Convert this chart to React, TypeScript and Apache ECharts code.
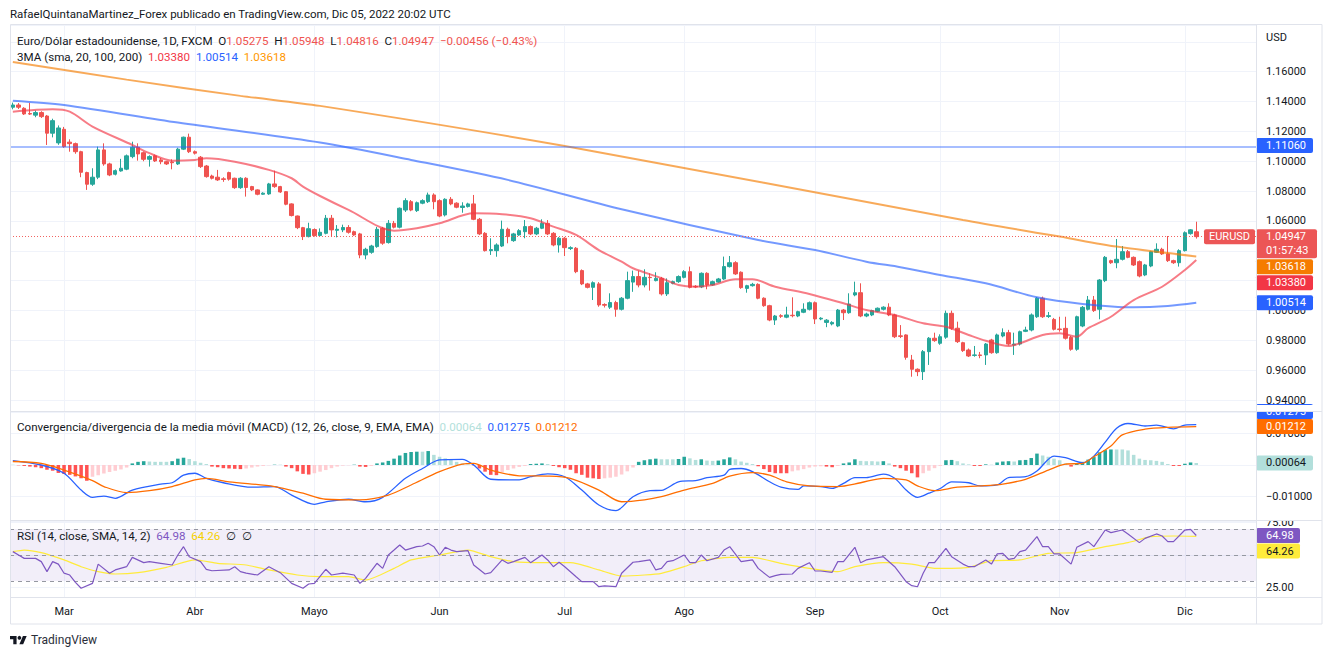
import React, { useEffect, useRef } from 'react';
import * as echarts from 'echarts';

const FONT = 'Roboto, "Noto Sans", "DejaVu Sans", sans-serif';
const INK = '#131722';
const GRID_LINE = '#f0f3fa';
const BORDER = '#e0e3eb';
const UP = '#26a69a';
const DOWN = '#ef5350';
const LEGEND_SIZE = 11.6;

// ---------- texts ----------
const HEADER = 'RafaelQuintanaMartinez_Forex publicado en TradingView.com, Dic 05, 2022 20:02 UTC';
const SYMBOL_TITLE = 'Euro/Dólar estadounidense, 1D, FXCM';
const MA_TITLE = '3MA (sma, 20, 100, 200)';
const MACD_TITLE = 'Convergencia/divergencia de la media móvil (MACD) (12, 26, close, 9, EMA, EMA)';
const RSI_TITLE = 'RSI (14, close, SMA, 14, 2)';
const COUNTDOWN = '01:57:43';
const MONTHS_ES = ['Ene', 'Feb', 'Mar', 'Abr', 'Mayo', 'Jun', 'Jul', 'Ago', 'Sep', 'Oct', 'Nov', 'Dic'];

// ---------- calendar ----------
const FIRST_DAY = '2022-02-16';
const EMPTY_BARS = 10;

// ---------- last values ----------
const LAST_OPEN = 1.05275;
const LAST_HIGH = 1.05948;
const LAST_LOW = 1.04816;
const LAST_CLOSE = 1.04947;
const LAST_CHANGE = '−0.00456 (−0.43%)';
const HLINE_LEVEL = 1.1106;
const SMA20_LAST = 1.0338;
const SMA100_LAST = 1.00514;
const SMA200_LAST = 1.03618;
const MACD_HIST_LAST = 0.00064;
const MACD_LAST = 0.01275;
const SIGNAL_LAST = 0.01212;
const RSI_LAST = 64.98;
const RSI_MA_LAST = 64.26;

// ---------- price: [open, close, low, high] ----------
const CANDLES = [
  [1.1362,1.1377,1.1348,1.1393],[1.1377,1.1362,1.1350,1.1390],[1.1355,1.1317,1.1310,1.1362],[1.1320,1.1316,1.1310,1.1391],[1.1309,1.1326,1.1295,1.1340],
  [1.1326,1.1299,1.1290,1.1335],[1.1303,1.1188,1.1109,1.1310],[1.1188,1.1272,1.1160,1.1285],[1.1123,1.1223,1.1110,1.1240],[1.1214,1.1098,1.1090,1.1230],
  [1.1128,1.1118,1.1064,1.1147],[1.1118,1.1064,1.1050,1.1125],[1.1064,1.0926,1.0893,1.1070],[1.0924,1.0846,1.0808,1.0930],[1.0846,1.0893,1.0835,1.0953],
  [1.0893,1.1076,1.0880,1.1098],[1.1076,1.0982,1.0970,1.1120],[1.0982,1.0908,1.0900,1.0990],[1.0913,1.0937,1.0905,1.0945],[1.0935,1.0953,1.0930,1.1016],
  [1.0947,1.1036,1.0940,1.1045],[1.1031,1.1094,1.1020,1.1131],[1.1094,1.1049,1.1004,1.1120],[1.1057,1.1013,1.1000,1.1065],[1.1013,1.1031,1.0964,1.1040],
  [1.1036,1.1002,1.0995,1.1045],[1.1009,1.0997,1.0980,1.1022],[1.0997,1.0982,1.0975,1.1002],[1.0995,1.0990,1.0946,1.1013],[1.0982,1.1081,1.0975,1.1090],
  [1.1081,1.1161,1.1075,1.1165],[1.1161,1.1064,1.1055,1.1185],[1.1064,1.1054,1.1045,1.1072],[1.1027,1.0964,1.0955,1.1035],[1.0968,1.0897,1.0890,1.0975],
  [1.0901,1.0886,1.0878,1.0910],[1.0893,1.0875,1.0868,1.0942],[1.0882,1.0878,1.0862,1.0893],[1.0924,1.0880,1.0870,1.0930],[1.0886,1.0823,1.0815,1.0890],
  [1.0823,1.0886,1.0815,1.0893],[1.0886,1.0824,1.0763,1.0893],[1.0830,1.0808,1.0800,1.0835],[1.0808,1.0779,1.0772,1.0812],[1.0779,1.0786,1.0775,1.0792],
  [1.0781,1.0848,1.0775,1.0855],[1.0848,1.0830,1.0822,1.0937],[1.0830,1.0794,1.0788,1.0835],[1.0796,1.0712,1.0705,1.0800],[1.0714,1.0636,1.0630,1.0718],
  [1.0633,1.0555,1.0545,1.0636],[1.0555,1.0495,1.0472,1.0560],[1.0495,1.0548,1.0490,1.0588],[1.0542,1.0502,1.0495,1.0550],[1.0502,1.0524,1.0498,1.0550],
  [1.0517,1.0618,1.0510,1.0640],[1.0618,1.0540,1.0495,1.0640],[1.0537,1.0544,1.0490,1.0572],[1.0540,1.0556,1.0525,1.0575],[1.0556,1.0524,1.0515,1.0572],
  [1.0528,1.0506,1.0500,1.0535],[1.0513,1.0372,1.0350,1.0520],[1.0372,1.0410,1.0343,1.0420],[1.0390,1.0432,1.0380,1.0440],[1.0428,1.0544,1.0420,1.0560],
  [1.0551,1.0451,1.0440,1.0560],[1.0455,1.0584,1.0448,1.0606],[1.0584,1.0558,1.0550,1.0600],[1.0558,1.0685,1.0550,1.0690],[1.0673,1.0736,1.0660,1.0752],
  [1.0729,1.0673,1.0665,1.0740],[1.0669,1.0722,1.0660,1.0730],[1.0719,1.0736,1.0712,1.0745],[1.0729,1.0774,1.0720,1.0790],[1.0774,1.0729,1.0678,1.0785],
  [1.0736,1.0633,1.0625,1.0745],[1.0640,1.0745,1.0630,1.0752],[1.0745,1.0714,1.0705,1.0760],[1.0719,1.0692,1.0685,1.0725],[1.0690,1.0700,1.0655,1.0725],
  [1.0696,1.0714,1.0690,1.0722],[1.0714,1.0611,1.0605,1.0774],[1.0611,1.0513,1.0505,1.0620],[1.0517,1.0401,1.0395,1.0525],[1.0401,1.0408,1.0372,1.0484],
  [1.0401,1.0439,1.0360,1.0450],[1.0432,1.0544,1.0425,1.0602],[1.0544,1.0495,1.0450,1.0555],[1.0468,1.0513,1.0460,1.0520],[1.0506,1.0535,1.0500,1.0545],
  [1.0528,1.0562,1.0484,1.0606],[1.0562,1.0513,1.0505,1.0570],[1.0513,1.0551,1.0505,1.0560],[1.0551,1.0584,1.0545,1.0611],[1.0584,1.0513,1.0505,1.0606],
  [1.0517,1.0439,1.0430,1.0525],[1.0439,1.0484,1.0388,1.0492],[1.0484,1.0421,1.0365,1.0492],[1.0415,1.0421,1.0405,1.0430],[1.0417,1.0260,1.0250,1.0425],
  [1.0267,1.0178,1.0170,1.0275],[1.0178,1.0155,1.0148,1.0185],[1.0155,1.0186,1.0070,1.0195],[1.0178,1.0037,1.0025,1.0190],[1.0040,1.0035,1.0020,1.0048],
  [1.0022,1.0053,1.0010,1.0115],[1.0053,1.0008,0.9958,1.0065],[1.0008,1.0082,1.0000,1.0090],[1.0082,1.0200,1.0075,1.0260],[1.0190,1.0227,1.0125,1.0267],
  [1.0227,1.0171,1.0155,1.0267],[1.0171,1.0222,1.0155,1.0276],[1.0222,1.0220,1.0133,1.0249],[1.0200,1.0215,1.0195,1.0256],[1.0215,1.0111,1.0100,1.0225],
  [1.0111,1.0186,1.0097,1.0215],[1.0182,1.0193,1.0175,1.0200],[1.0193,1.0227,1.0185,1.0235],[1.0222,1.0260,1.0215,1.0270],[1.0260,1.0155,1.0148,1.0294],
  [1.0162,1.0158,1.0150,1.0170],[1.0158,1.0249,1.0150,1.0255],[1.0249,1.0171,1.0142,1.0256],[1.0171,1.0193,1.0165,1.0200],[1.0190,1.0211,1.0185,1.0218],
  [1.0211,1.0294,1.0205,1.0361],[1.0294,1.0320,1.0288,1.0365],[1.0320,1.0245,1.0238,1.0330],[1.0256,1.0153,1.0145,1.0262],[1.0148,1.0166,1.0119,1.0172],
  [1.0166,1.0175,1.0160,1.0185],[1.0175,1.0082,1.0075,1.0182],[1.0082,1.0032,1.0025,1.0088],[1.0032,0.9936,0.9928,1.0038],[0.9936,0.9963,0.9903,0.9970],
  [0.9965,0.9961,0.9950,0.9975],[0.9955,0.9970,0.9948,1.0025],[0.9968,0.9965,0.9954,1.0088],[0.9963,0.9992,0.9955,0.9998],[0.9988,1.0008,0.9982,1.0048],
  [1.0008,1.0052,1.0000,1.0060],[1.0052,0.9943,0.9909,1.0060],[0.9943,0.9948,0.9935,0.9955],[0.9920,0.9935,0.9888,0.9942],[0.9910,0.9920,0.9900,0.9928],
  [0.9896,1.0003,0.9888,1.0010],[1.0003,0.9985,0.9936,1.0010],[0.9985,1.0043,0.9978,1.0115],[1.0104,1.0119,1.0095,1.0193],[1.0119,0.9963,0.9955,1.0182],
  [0.9963,0.9976,0.9955,0.9985],[0.9970,0.9999,0.9962,1.0005],[0.9994,1.0015,0.9988,1.0020],[1.0008,1.0022,1.0000,1.0028],[1.0022,0.9970,0.9962,1.0048],
  [0.9970,0.9824,0.9815,0.9978],[0.9830,0.9826,0.9815,0.9902],[0.9836,0.9686,0.9670,0.9840],[0.9668,0.9606,0.9556,0.9702],[0.9606,0.9590,0.9560,0.9612],
  [0.9590,0.9724,0.9534,0.9735],[0.9724,0.9814,0.9635,0.9822],[0.9814,0.9798,0.9790,0.9851],[0.9780,0.9824,0.9770,0.9840],[0.9821,0.9981,0.9810,0.9999],
  [0.9981,0.9881,0.9870,0.9999],[0.9881,0.9791,0.9782,0.9925],[0.9784,0.9731,0.9722,0.9790],[0.9735,0.9695,0.9688,0.9745],[0.9699,0.9702,0.9690,0.9762],
  [0.9702,0.9698,0.9680,0.9722],[0.9702,0.9775,0.9635,0.9782],[0.9802,0.9717,0.9710,0.9810],[0.9717,0.9836,0.9710,0.9845],[0.9829,0.9851,0.9820,0.9880],
  [0.9851,0.9775,0.9765,0.9870],[0.9768,0.9775,0.9702,0.9851],[0.9775,0.9858,0.9765,0.9865],[0.9860,0.9869,0.9855,0.9891],[0.9869,0.9970,0.9860,0.9980],
  [0.9958,1.0082,0.9950,1.0090],[1.0082,0.9958,0.9950,1.0093],[0.9960,0.9965,0.9950,0.9990],[0.9940,0.9874,0.9866,0.9950],[0.9876,0.9872,0.9858,0.9958],
  [0.9880,0.9814,0.9805,0.9958],[0.9820,0.9740,0.9730,0.9830],[0.9740,0.9958,0.9730,0.9965],[0.9896,1.0021,0.9888,1.0030],[1.0008,1.0070,1.0000,1.0097],
  [1.0070,0.9999,0.9990,1.0097],[1.0008,1.0204,0.9941,1.0210],[1.0200,1.0356,1.0190,1.0365],[1.0334,1.0320,1.0312,1.0340],[1.0320,1.0343,1.0283,1.0479],
  [1.0343,1.0394,1.0335,1.0432],[1.0394,1.0356,1.0350,1.0405],[1.0356,1.0305,1.0298,1.0362],[1.0327,1.0231,1.0222,1.0335],[1.0238,1.0305,1.0230,1.0312],
  [1.0298,1.0394,1.0290,1.0400],[1.0390,1.0410,1.0385,1.0450],[1.0410,1.0379,1.0372,1.0420],[1.0379,1.0334,1.0325,1.0499],[1.0334,1.0320,1.0312,1.0340],
  [1.0320,1.0401,1.0294,1.0410],[1.0401,1.0521,1.0395,1.0530],[1.0515,1.05403,1.0508,1.0545],[1.05275,1.04947,1.04816,1.05948],
];

// ---------- moving averages: [bar index, value] ----------
const SMA20 = [[0,1.1332],[7,1.1348],[10,1.1332],[14,1.1232],[21,1.1109],[24,1.1054],[28,1.1004],[32,1.1009],[34,1.1020],[39,1.0997],[45,1.0942],[49,1.0886],[51,1.0830],[54,1.0767],[59,1.0674],[67,1.0535],[71,1.0551],[75,1.0584],[81,1.0651],[86,1.0645],[91,1.0618],[95,1.0562],[99,1.0506],[103,1.0405],[107,1.0327],[109,1.0283],[114,1.0216],[117,1.0171],[120,1.0159],[123,1.0171],[127,1.0209],[130,1.0209],[134,1.0159],[140,1.0111],[146,1.0048],[150,1.0003],[155,0.9970],[160,0.9914],[164,0.9891],[168,0.9836],[171,0.9797],[175,0.9762],[177,0.9780],[181,0.9836],[184,0.9847],[187,0.9824],[189,0.9881],[193,0.9958],[197,1.0070],[202,1.0159],[206,1.0271],[208,1.0338]];
const SMA100 = [[0,1.1406],[9,1.1377],[29,1.1259],[54,1.1125],[70,1.1009],[87,1.0875],[107,1.0678],[131,1.0472],[141,1.0405],[150,1.0327],[156,1.0290],[163,1.0238],[171,1.0182],[180,1.0088],[188,1.0044],[197,1.0021],[203,1.0030],[208,1.00514]];
const SMA200 = [[0,1.1665],[20,1.1547],[40,1.1438],[54,1.1371],[97,1.1102],[167,1.0606],[184,1.0495],[194,1.0428],[208,1.03618]];

// ---------- MACD ----------
const MACD_HIST = [
  0.0001,-0.0001,-0.0003,-0.0005,-0.0007,-0.0010,-0.0015,-0.0018,-0.0025,-0.0028,-0.0031,-0.0036,-0.0042,-0.0050,-0.0037,-0.0032,-0.0027,-0.0022,-0.0018,-0.0014,-0.0008,
  0.0005,0.0010,0.0012,0.0011,0.0010,0.0010,0.0010,0.0012,0.0020,0.0023,0.0019,0.0012,0.0007,0.0003,
  -0.0005,-0.0007,-0.0010,-0.0011,-0.0012,-0.0013,-0.0011,-0.0008,-0.0005,-0.0003,-0.0001,
  0.0001,0.0001,
  -0.0005,-0.0010,-0.0020,-0.0028,-0.0030,-0.0026,-0.0021,-0.0016,-0.0010,-0.0005,-0.0002,-0.0001,
  0.0001,
  -0.0005,-0.0006,-0.0003,
  0.0005,0.0008,0.0013,0.0020,0.0030,0.0038,0.0041,0.0042,0.0042,0.0044,0.0032,0.0026,0.0021,0.0016,0.0010,0.0005,0.0002,
  -0.0001,-0.0011,-0.0021,-0.0031,-0.0032,-0.0022,-0.0016,-0.0011,-0.0006,-0.0003,
  0.0003,0.0004,0.0005,0.0003,
  -0.0003,-0.0007,-0.0010,-0.0015,-0.0026,-0.0031,-0.0040,-0.0042,-0.0044,-0.0042,-0.0040,-0.0037,-0.0030,-0.0020,-0.0008,
  0.0010,0.0015,0.0018,0.0020,0.0018,0.0018,0.0018,0.0019,0.0026,0.0021,0.0016,0.0018,0.0014,0.0013,0.0014,0.0018,0.0024,0.0018,0.0011,0.0007,0.0003,
  -0.0004,-0.0013,-0.0022,-0.0026,-0.0026,-0.0026,-0.0020,-0.0017,-0.0013,-0.0008,-0.0005,-0.0004,-0.0005,-0.0007,-0.0003,
  0.0005,0.0008,0.0018,0.0013,0.0012,0.0012,0.0011,0.0012,0.0005,
  -0.0005,-0.0010,-0.0018,-0.0026,-0.0039,-0.0026,-0.0018,-0.0010,-0.0003,
  0.0015,0.0016,0.0012,0.0005,0.0002,
  -0.0003,-0.0003,
  0.0002,0.0001,0.0008,0.0011,0.0012,0.0011,0.0015,0.0016,0.0022,0.0036,0.0030,0.0026,0.0020,0.0015,0.0005,
  -0.0005,
  0.0005,0.0010,0.0017,0.0025,0.0040,0.0047,0.0049,0.0049,0.0049,0.0046,0.0032,0.0020,0.0016,0.0015,0.0013,0.0010,0.0003,
  -0.0003,-0.0003,
  0.0004,0.0008,0.00064,
];
const MACD_LINE = [[0,0.0014],[5,0],[9,-0.0026],[12,-0.0079],[14,-0.0102],[16,-0.0098],[18,-0.0105],[21,-0.0079],[26,-0.0060],[28,-0.0056],[30,-0.0032],[32,-0.0026],[34,-0.0042],[37,-0.0056],[42,-0.0070],[46,-0.0068],[49,-0.0095],[53,-0.0124],[55,-0.0116],[59,-0.0108],[62,-0.0116],[65,-0.0102],[69,-0.0042],[72,-0.0011],[75,0.0016],[79,0.0018],[81,0],[84,-0.0045],[89,-0.0047],[91,-0.0037],[94,-0.0028],[97,-0.0037],[100,-0.0079],[103,-0.0126],[106,-0.0144],[109,-0.0100],[112,-0.0081],[114,-0.0080],[117,-0.0053],[120,-0.0049],[122,-0.0040],[125,-0.0032],[126,-0.0014],[128,-0.0011],[130,-0.0021],[133,-0.0053],[135,-0.0070],[138,-0.0077],[139,-0.0066],[142,-0.0068],[144,-0.0074],[146,-0.0058],[148,-0.0040],[150,-0.0040],[153,-0.0029],[155,-0.0042],[157,-0.0079],[159,-0.0102],[161,-0.0089],[163,-0.0074],[165,-0.0053],[168,-0.0056],[170,-0.0066],[173,-0.0063],[175,-0.0040],[178,-0.0037],[180,-0.0019],[183,0.0028],[185,0.0023],[188,0.0007],[190,0.0028],[192,0.0072],[194,0.0116],[196,0.0131],[199,0.0123],[201,0.0126],[204,0.0114],[206,0.0126],[208,0.01275]];
const MACD_SIGNAL = [[0,0.0011],[5,0.0005],[9,-0.0016],[14,-0.0049],[16,-0.0068],[20,-0.0087],[24,-0.0081],[28,-0.0068],[32,-0.0047],[34,-0.0042],[38,-0.0053],[46,-0.0068],[51,-0.0089],[55,-0.0108],[61,-0.0110],[66,-0.0095],[70,-0.0063],[75,-0.0021],[79,0.0003],[81,0.0005],[84,-0.0016],[89,-0.0034],[94,-0.0035],[98,-0.0042],[103,-0.0079],[107,-0.0116],[111,-0.0110],[114,-0.0100],[118,-0.0079],[123,-0.0058],[126,-0.0035],[130,-0.0024],[133,-0.0032],[136,-0.0053],[140,-0.0066],[145,-0.0068],[149,-0.0056],[153,-0.0042],[157,-0.0047],[159,-0.0066],[162,-0.0081],[166,-0.0070],[170,-0.0066],[174,-0.0060],[178,-0.0045],[182,-0.0016],[185,0.0003],[188,0.0005],[190,0.0026],[193,0.0060],[195,0.0095],[199,0.0113],[203,0.0119],[208,0.01212]];

// ---------- RSI ----------
const RSI_LINE = [[0,52.6],[1,50],[2,47.4],[4,47.4],[5,44.9],[6,37.2],[7,44.9],[8,43],[9,36],[10,34.6],[11,29],[12,24.4],[14,28.2],[15,43],[17,36],[18,38.5],[20,41],[21,48.2],[23,44.1],[24,44.9],[26,43.6],[28,42.3],[29,50],[30,56.4],[31,48.7],[33,44.9],[34,39],[35,37.9],[38,38.5],[39,41],[40,37.2],[41,36],[43,34.6],[45,41],[47,36.4],[49,28.2],[51,24.4],[52,27.7],[53,28.2],[55,39],[56,34.6],[58,36],[60,34.6],[61,28.2],[62,32],[64,43.6],[65,39.7],[66,50],[67,53.8],[68,57.7],[69,53.8],[71,56.4],[72,56.9],[73,59],[74,56.4],[75,50],[76,55.9],[77,53.8],[78,52.6],[80,53.3],[81,42.3],[83,35.4],[84,36.4],[86,46.2],[87,43.6],[88,44.9],[90,48.2],[91,44.1],[93,50],[94,46.2],[95,41],[96,44.4],[97,41],[99,33.3],[100,29.5],[102,29.5],[103,25.6],[104,26.2],[106,25.6],[107,36],[109,44.4],[110,44.9],[112,46.2],[113,38.5],[114,39.7],[115,44.9],[116,45.6],[118,50],[119,44.1],[120,44.1],[121,50],[122,45.6],[124,48.2],[125,53.8],[126,56.4],[128,44.9],[130,46.2],[131,39.7],[133,32.8],[134,34.1],[135,35.1],[137,35.4],[138,39.7],[140,44.1],[141,37.7],[142,37.7],[144,36.7],[145,44.9],[146,44.9],[148,55.9],[149,44.1],[150,46.2],[153,48.7],[155,41],[157,29.5],[158,26.4],[159,25.6],[160,36],[161,44.1],[162,44.1],[164,55.1],[165,48.7],[167,43],[168,41],[169,41],[171,46.2],[172,43],[173,50.8],[174,51.3],[175,46.7],[176,47.4],[177,52.6],[178,53.8],[180,64.1],[181,56.4],[182,56.4],[183,50.8],[184,50.8],[186,43],[187,55.9],[189,60.3],[190,56.4],[192,69.2],[193,67.2],[195,69.2],[196,66.2],[198,59.5],[199,62.8],[201,66.2],[202,64.6],[203,60.3],[204,60.3],[206,69.2],[207,69.7],[208,64.98]];
const RSI_MA = [[0,52.6],[2,53.8],[5,51.8],[9,46.2],[12,41],[15,37.2],[18,35.4],[22,36.4],[27,40.5],[32,46.2],[36,43.6],[41,42.3],[45,38.5],[50,34.6],[54,33.3],[59,33.3],[62,30.8],[67,39.7],[70,46.2],[75,50],[80,53.8],[84,48.7],[88,44.9],[93,44.1],[98,44.1],[103,38.5],[107,33.8],[111,34.6],[114,35.9],[118,41],[121,45.6],[126,48.2],[130,48.2],[135,43.6],[140,39.7],[145,37.2],[148,41],[153,44.1],[158,43],[162,39.7],[168,40.5],[172,45.6],[177,46.2],[182,51.3],[187,51.8],[192,56.4],[196,59.5],[200,64.1],[204,64.6],[208,64.26]];
const RSI_LEVELS = [70, 50, 30];

// ---------- layout ----------
const PLOT_LEFT = 10;
const PLOT_RIGHT = 1256;
const AXIS_RIGHT = 1322;
const FRAME_TOP = 24.5;
const MAIN = { top: 25, bottom: 411, min: 0.93263, max: 1.1913 };
const MACD = { top: 412, bottom: 520, min: -0.01735, max: 0.01672 };
const RSI = { top: 521, bottom: 597, min: 17.69, max: 76.15 };
const TIME_BOTTOM = 624;

function buildDates(): string[] {
  const out: string[] = [];
  const d = new Date(FIRST_DAY + 'T00:00:00Z');
  while (out.length < CANDLES.length + EMPTY_BARS) {
    const wd = d.getUTCDay();
    if (wd !== 0 && wd !== 6) out.push(d.toISOString().slice(0, 10));
    d.setUTCDate(d.getUTCDate() + 1);
  }
  return out;
}
const DATES = buildDates();
const isMonthStart = (i: number) => i > 0 && DATES[i].slice(5, 7) !== DATES[i - 1].slice(5, 7);
const monthLabel = (v: string) => MONTHS_ES[Number(v.slice(5, 7)) - 1];
const f5 = (v: number) => (v < 0 ? '−' : '') + Math.abs(v).toFixed(5);

const TV_LOGO_PATH = 'M14 22H7V11H0V4h14v18zM28 22h-8l7.5-18h8L28 22z';

function buildOption(): any {
  const panes = [MAIN, MACD, RSI];
  const grid = panes.map((p) => ({
    left: PLOT_LEFT, top: p.top, width: PLOT_RIGHT - PLOT_LEFT, height: p.bottom - p.top,
    show: false, containLabel: false, outerBoundsMode: 'none',
  }));
  const xAxis = panes.map((_, g) => ({
    type: 'category', gridIndex: g, data: DATES, boundaryGap: true,
    axisLine: { show: false }, axisTick: { show: false },
    axisLabel: g === 2
      ? { show: true, interval: (i: number) => isMonthStart(i), formatter: monthLabel, color: INK, fontSize: 11, fontFamily: FONT, margin: 9 }
      : { show: false },
    splitLine: { show: true, interval: (i: number) => isMonthStart(i), alignWithLabel: true, lineStyle: { color: GRID_LINE, width: 1 } },
  }));
  const labelBase = { color: INK, fontSize: 11, fontFamily: FONT, margin: 10, showMinLabel: false, showMaxLabel: false };
  const yAxis = [
    {
      type: 'value', gridIndex: 0, position: 'right', min: MAIN.min, max: MAIN.max, splitNumber: 13, minInterval: 0.02, maxInterval: 0.02,
      axisLine: { show: false }, axisTick: { show: false },
      axisLabel: { ...labelBase, formatter: (v: number) => (Math.abs(v - 1.18) < 1e-6 ? '' : f5(v)) },
      splitLine: { lineStyle: { color: GRID_LINE, width: 1 } },
    },
    {
      type: 'value', gridIndex: 1, position: 'right', min: MACD.min, max: MACD.max, splitNumber: 3, minInterval: 0.01, maxInterval: 0.01,
      axisLine: { show: false }, axisTick: { show: false },
      axisLabel: { ...labelBase, formatter: (v: number) => f5(v) },
      splitLine: { lineStyle: { color: GRID_LINE, width: 1 } },
    },
    {
      type: 'value', gridIndex: 2, position: 'right', min: RSI.min, max: RSI.max, splitNumber: 2, minInterval: 25, maxInterval: 25,
      axisLine: { show: false }, axisTick: { show: false },
      axisLabel: { ...labelBase, formatter: (v: number) => (Math.abs(v - 50) < 1e-6 ? '' : v.toFixed(2)) },
      splitLine: { lineStyle: { color: GRID_LINE, width: 1 } },
    },
  ];

  const line = (data: number[][], color: string, x: number, width: number, opacity: number, smooth: number, z = 4) => ({
    type: 'line', xAxisIndex: x, yAxisIndex: x, data, showSymbol: false, symbol: 'none', smooth, silent: true, z,
    lineStyle: { color, width, opacity },
  });

  const hist = MACD_HIST.map((v, i) => {
    const p = i > 0 ? MACD_HIST[i - 1] : v;
    const color = v >= 0 ? (v > p ? '#26a69a' : '#b2dfdb') : (v > p ? '#ffcdd2' : '#ff5252');
    return { value: v, itemStyle: { color } };
  });

  const series: any[] = [
    {
      type: 'candlestick', xAxisIndex: 0, yAxisIndex: 0, data: CANDLES, barWidth: '70%', silent: true, z: 2,
      itemStyle: { color: UP, color0: DOWN, borderColor: UP, borderColor0: DOWN, borderWidth: 1 },
      markLine: {
        silent: true, symbol: ['none', 'none'], label: { show: false },
        data: [
          { yAxis: HLINE_LEVEL, lineStyle: { color: '#2962ff', width: 1.6, type: 'solid', opacity: 0.55 } },
          { yAxis: LAST_CLOSE, lineStyle: { color: DOWN, width: 1, type: [1, 2], opacity: 0.9 } },
        ],
      },
    },
    line(SMA200, '#f57c00', 0, 2, 0.65, 0.3),
    line(SMA100, '#2962ff', 0, 2, 0.65, 0.3),
    line(SMA20, '#f23645', 0, 2, 0.65, 0.3),
    { type: 'bar', xAxisIndex: 1, yAxisIndex: 1, data: hist, barWidth: '62%', silent: true, z: 2 },
    line(MACD_LINE, '#2962ff', 1, 1.3, 1, 0.3),
    line(MACD_SIGNAL, '#ff6d00', 1, 1.3, 1, 0.3),
    {
      ...line(RSI_MA, '#ffeb3b', 2, 1.2, 1, 0.2, 4),
      markArea: { silent: true, itemStyle: { color: 'rgba(126,87,194,0.1)' }, data: [[{ yAxis: 30 }, { yAxis: 70 }]] },
    },
    {
      ...line(RSI_LINE, '#7e57c2', 2, 1.2, 1, 0, 5),
      markLine: {
        silent: true, symbol: ['none', 'none'], label: { show: false },
        lineStyle: { color: '#9598a1', width: 1, type: [4, 4] },
        data: RSI_LEVELS.map((v) => ({ yAxis: v })),
      },
    },
  ];

  return {
    animation: false,
    backgroundColor: '#ffffff',
    textStyle: { fontFamily: FONT },
    grid, xAxis, yAxis, series,
  };
}

function txt(x: number, y: number, text: string, fill: string, size = 11, z = 60, align = 'left'): any {
  return { type: 'text', x, y, z, silent: true, style: { text, fill, font: `${size}px ${FONT}`, align, verticalAlign: 'middle' } };
}

function rich(x: number, y: number, text: string, styles: Record<string, string>): any {
  const r: any = {};
  const font = `${LEGEND_SIZE}px ${FONT}`;
  Object.keys(styles).forEach((k) => { r[k] = { fill: styles[k], font }; });
  return { type: 'text', x, y, z: 60, silent: true, style: { text, rich: r, fill: INK, font, verticalAlign: 'middle' } };
}

function tag(x: number, top: number, w: number, fill: string, lines: string[], color = '#ffffff', centered = false): any[] {
  const h = 15 + (lines.length - 1) * 14;
  const out: any[] = [{ type: 'rect', z: 80, silent: true, shape: { x, y: top, width: w, height: h, r: 2 }, style: { fill } }];
  lines.forEach((t, k) => {
    out.push({
      type: 'text', z: 81, silent: true, x: centered ? x + w / 2 : x + 10, y: top + 7.5 + k * 14,
      style: { text: t, fill: color, font: `11px ${FONT}`, align: centered ? 'center' : 'left', verticalAlign: 'middle' },
    });
  });
  return out;
}

function buildGraphics(chart: any): any[] {
  const yAt = (axis: number, v: number) => Number(chart.convertToPixel({ yAxisIndex: axis }, v));
  const g: any[] = [];

  // header and legends
  g.push(txt(10, 14, HEADER, INK, 11.5));
  g.push(rich(17, 41,
    `{d|${SYMBOL_TITLE}}  {d|O}{r|${f5(LAST_OPEN)}}  {d|H}{r|${f5(LAST_HIGH)}}  {d|L}{r|${f5(LAST_LOW)}}  {d|C}{r|${f5(LAST_CLOSE)}}  {r|${LAST_CHANGE}}`,
    { d: INK, r: DOWN }));
  g.push(rich(17, 57,
    `{d|${MA_TITLE}}  {a|${f5(SMA20_LAST)}}  {b|${f5(SMA100_LAST)}}  {c|${f5(SMA200_LAST)}}`,
    { d: INK, a: '#f23645', b: '#2962ff', c: '#ff9800' }));
  g.push(rich(17, 427,
    `{d|${MACD_TITLE}}  {h|${f5(MACD_HIST_LAST)}}  {m|${f5(MACD_LAST)}}  {s|${f5(SIGNAL_LAST)}}`,
    { d: INK, h: '#b2dfdb', m: '#2962ff', s: '#ff6d00' }));
  g.push(rich(17, 536,
    `{d|${RSI_TITLE}}  {p|${RSI_LAST.toFixed(2)}}  {y|${RSI_MA_LAST.toFixed(2)}}  {d|∅}  {d|∅}`,
    { d: INK, p: '#7e57c2', y: '#f5d000' }));
  g.push(txt(1266, 37, 'USD', INK, 11));

  // main pane price tags
  const x0 = PLOT_RIGHT;
  g.push(...tag(x0, yAt(0, HLINE_LEVEL) - 7.5, 57, '#2962ff', [f5(HLINE_LEVEL)]));
  const priceTop = yAt(0, LAST_CLOSE) - 7.5;
  g.push(...tag(x0 - 52, priceTop, 51, '#ec5656', ['EURUSD'], '#ffffff', true));
  g.push(...tag(x0, priceTop, 61, '#ec5656', [f5(LAST_CLOSE), COUNTDOWN]));
  const top200 = Math.max(yAt(0, SMA200_LAST) - 7.5, priceTop + 30);
  g.push(...tag(x0, top200, 57, '#f57c00', [f5(SMA200_LAST)]));
  const top20 = Math.max(yAt(0, SMA20_LAST) - 7.5, top200 + 16);
  g.push(...tag(x0, top20, 57, '#f23645', [f5(SMA20_LAST)]));
  const top100 = Math.max(yAt(0, SMA100_LAST) - 7.5, top20 + 16);
  g.push(...tag(x0, top100, 57, '#2962ff', [f5(SMA100_LAST)]));

  // MACD tags
  const topSig = yAt(1, SIGNAL_LAST) - 7.5;
  const topMacd = Math.min(yAt(1, MACD_LAST) - 7.5, topSig - 15);
  g.push(...tag(x0, topMacd, 57, '#2962ff', [f5(MACD_LAST)]));
  g.push(...tag(x0, topSig, 57, '#ff6d00', [f5(SIGNAL_LAST)]));
  g.push(...tag(x0, yAt(1, MACD_HIST_LAST) - 7.5, 57, '#b2dfdb', [f5(MACD_HIST_LAST)], INK));

  // RSI tags
  const topR = yAt(2, RSI_LAST) - 7.5;
  g.push(...tag(x0, topR, 44, '#7e57c2', [RSI_LAST.toFixed(2)]));
  const topRm = Math.max(yAt(2, RSI_MA_LAST) - 7.5, topR + 15.5);
  g.push(...tag(x0, topRm, 44, '#ffeb3b', [RSI_MA_LAST.toFixed(2)], INK));

  // clip the price-scale column at pane borders
  g.push({ type: 'rect', z: 90, silent: true, shape: { x: x0 + 1, y: MACD.top - 7, width: AXIS_RIGHT - x0 - 1, height: 7 }, style: { fill: '#ffffff' } });
  g.push({ type: 'rect', z: 90, silent: true, shape: { x: x0 + 1, y: RSI.top - 11, width: AXIS_RIGHT - x0 - 1, height: 11 }, style: { fill: '#ffffff' } });
  g.push({ type: 'rect', z: 90, silent: true, shape: { x: x0 + 1, y: 0, width: AXIS_RIGHT - x0 + 10, height: FRAME_TOP }, style: { fill: '#ffffff' } });

  // frame and pane separators
  const stroke = { stroke: BORDER, lineWidth: 1 };
  g.push({ type: 'rect', z: 95, silent: true, shape: { x: PLOT_LEFT + 0.5, y: FRAME_TOP, width: AXIS_RIGHT - PLOT_LEFT - 0.5, height: TIME_BOTTOM - FRAME_TOP }, style: { fill: 'none', ...stroke } });
  [MAIN.bottom + 0.5, MACD.bottom + 0.5, RSI.bottom + 0.5].forEach((y) => {
    g.push({ type: 'line', z: 95, silent: true, shape: { x1: PLOT_LEFT, y1: y, x2: AXIS_RIGHT, y2: y }, style: stroke });
  });
  g.push({ type: 'line', z: 95, silent: true, shape: { x1: x0 + 0.5, y1: FRAME_TOP, x2: x0 + 0.5, y2: TIME_BOTTOM }, style: stroke });

  // TradingView footer
  const s = 0.47;
  g.push({ type: 'tvLogo', z: 60, silent: true, x: 10, y: 634, scaleX: s, scaleY: s, style: { fill: INK } });
  g.push({ type: 'circle', z: 60, silent: true, shape: { cx: 10 + 20 * s, cy: 634 + 8 * s, r: 4 * s }, style: { fill: INK } });
  g.push(txt(31, 640, 'TradingView', '#2a2e39', 12));
  return g;
}

export default function App() {
  const ref = useRef<HTMLDivElement | null>(null);
  useEffect(() => {
    document.body.style.margin = '0';
    echarts.graphic.registerShape('tvLogo', echarts.graphic.extendPath(TV_LOGO_PATH, {}));
    const chart = echarts.init(ref.current as HTMLDivElement, null, { renderer: 'svg' });
    chart.setOption(buildOption());
    chart.setOption({ graphic: { elements: buildGraphics(chart) } });
    return () => chart.dispose();
  }, []);
  return <div ref={ref} style={{ width: 1332, height: 657 }} />;
}
